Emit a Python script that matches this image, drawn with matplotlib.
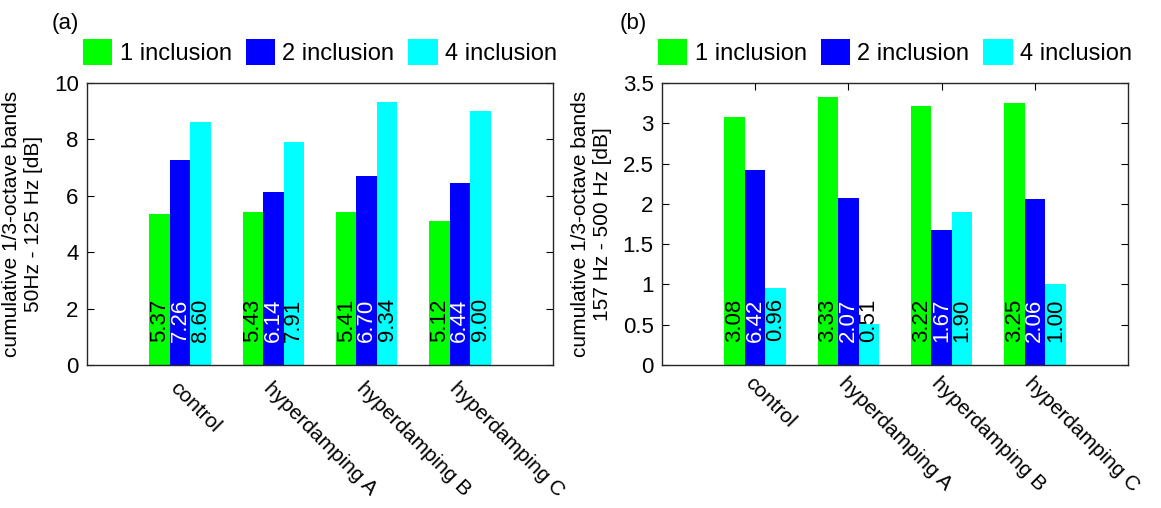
import numpy as np
from matplotlib import pyplot as plt
from matplotlib import transforms

plt.rcParams['font.family'] = ['Liberation Sans', 'DejaVu Sans']

categories = ['control', 'hyperdamping A', 'hyperdamping B', 'hyperdamping C']
series_names = ['1 inclusion', '2 inclusion', '4 inclusion']
colors = ['#00ff00', '#0000ff', '#00ffff']
text_colors = ['black', 'white', 'black']

# 50 Hz - 125 Hz band
low_1 = [5.37, 5.43, 5.41, 5.12]
low_2 = [7.26, 6.14, 6.70, 6.44]
low_4 = [8.60, 7.91, 9.34, 9.00]

# 157 Hz - 500 Hz band
high_1 = [3.08, 3.33, 3.22, 3.25]
high_2 = [2.42, 2.07, 1.67, 2.06]
high_4 = [0.96, 0.51, 1.90, 1.00]
# printed value for the control / 2 inclusion bar reads 6.42 in the figure
high_2_text = ['6.42', '2.07', '1.67', '2.06']

x = np.arange(1, len(categories) + 1)
width = 0.22

fig = plt.figure(figsize=(11.61, 5.08), dpi=100)
ax_a = fig.add_axes([0.0749, 0.2815, 0.4014, 0.5551])
ax_b = fig.add_axes([0.5702, 0.2815, 0.4014, 0.5551])


def draw_panel(ax, series, labels, ylim, yticks, ylabel, show_xticks):
    trans = transforms.blended_transform_factory(ax.transData, ax.transAxes)
    handles = []
    for i, vals in enumerate(series):
        pos = x + (i - 1) * width
        h = ax.bar(pos, vals, width, color=colors[i], edgecolor='none',
                   label=series_names[i], zorder=2)
        handles.append(h)
        for p, t in zip(pos, labels[i]):
            ax.text(p, 0.16, t, transform=trans, rotation=90, ha='center',
                    va='center', fontsize=16, color=text_colors[i], zorder=3)
    ax.set_xlim(0, 5)
    ax.set_ylim(*ylim)
    ax.set_yticks(yticks)
    ax.set_yticklabels([f'{v:g}' for v in yticks])
    ax.set_xticks(x)
    ax.set_xticklabels(categories, rotation=-45, ha='left', va='top',
                       rotation_mode='anchor', fontsize=15)
    ax.tick_params(axis='y', direction='in', right=True, length=5,
                   labelsize=16, pad=6)
    if show_xticks:
        ax.tick_params(axis='x', direction='in', top=True, length=5, pad=6)
    else:
        ax.tick_params(axis='x', length=0, pad=10)
    for s in ax.spines.values():
        s.set_color('#262626')
        s.set_linewidth(1.0)
    ax.set_ylabel(ylabel, fontsize=15, labelpad=8)
    ax.legend(handles=handles, loc='center', bbox_to_anchor=(0.5, 1.11),
              ncol=3, frameon=False, fontsize=17, handlelength=1.25,
              handleheight=1.3, handletextpad=0.3, columnspacing=0.6,
              borderpad=0, borderaxespad=0)


fmt = lambda vals: [f'{v:.2f}' for v in vals]

draw_panel(ax_a, [low_1, low_2, low_4],
           [fmt(low_1), fmt(low_2), fmt(low_4)],
           (0, 10), [0, 2, 4, 6, 8, 10],
           'cumulative 1/3-octave bands\n50Hz - 125 Hz [dB]', False)

draw_panel(ax_b, [high_1, high_2, high_4],
           [fmt(high_1), high_2_text, fmt(high_4)],
           (0, 3.5), [0, 0.5, 1, 1.5, 2, 2.5, 3, 3.5],
           'cumulative 1/3-octave bands\n157 Hz - 500 Hz [dB]', True)

fig.text(52 / 1161, 1 - 24 / 508, '(a)', fontsize=16, va='center', ha='left')
fig.text(620 / 1161, 1 - 24 / 508, '(b)', fontsize=16, va='center', ha='left')

fig.savefig('out.png', dpi=100)
